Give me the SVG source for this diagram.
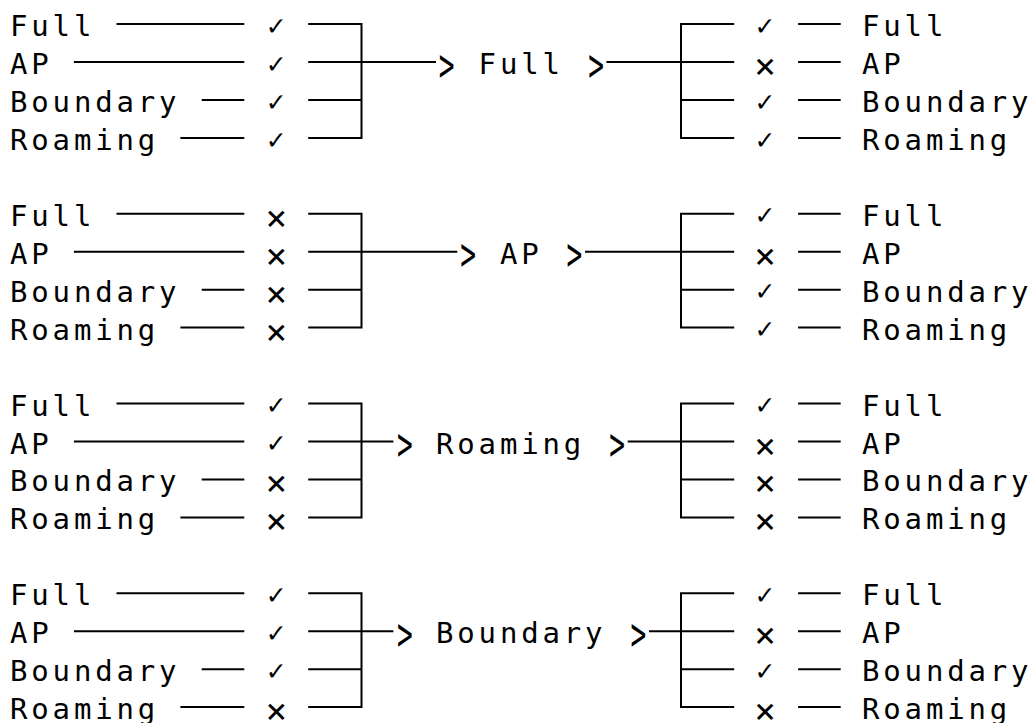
<svg xmlns="http://www.w3.org/2000/svg" width="1034" height="723" viewBox="0 0 1034 723">
<style>
.t{font-family:"DejaVu Sans Mono","Liberation Mono",monospace;font-size:29px;letter-spacing:3.84px;fill:#000}
.ck{font-family:"DejaVu Sans","Noto Sans",sans-serif;font-size:25px;text-anchor:middle;fill:#000}
.x{font-family:"DejaVu Sans Mono","Liberation Mono",monospace;font-size:36px;text-anchor:middle;fill:#000}
.ar{font-family:"DejaVu Sans Mono","Liberation Mono",monospace;font-size:29px;text-anchor:middle;fill:#000}
.c{fill:none;stroke:#000;stroke-width:2}
</style>
<rect width="1034" height="723" fill="#fff"/>
<g id="connectors" class="c">
<path d="M116.5 24H244.3M73.9 62H244.3M201.7 100H244.3M180.4 138H244.3"/>
<path d="M308.2 24H361.5V138H308.2M308.2 62H436M308.2 100H361.5"/>
<path d="M606.4 62H734.2M734.2 24H681V138H734.2M681 100H734.2"/>
<path d="M798.1 24H840.7M798.1 62H840.7M798.1 100H840.7M798.1 138H840.7"/>
<path d="M116.5 213.8H244.3M73.9 251.7H244.3M201.7 289.7H244.3M180.4 327.6H244.3"/>
<path d="M308.2 213.8H361.5V327.6H308.2M308.2 251.7H457.3M308.2 289.7H361.5"/>
<path d="M585 251.7H734.2M734.2 213.8H681V327.6H734.2M681 289.7H734.2"/>
<path d="M798.1 213.8H840.7M798.1 251.7H840.7M798.1 289.7H840.7M798.1 327.6H840.7"/>
<path d="M116.5 403.5H244.3M73.9 441.5H244.3M201.7 479.4H244.3M180.4 517.4H244.3"/>
<path d="M308.2 403.5H361.5V517.4H308.2M308.2 441.5H393.4M308.2 479.4H361.5"/>
<path d="M627.7 441.5H734.2M734.2 403.5H681V517.4H734.2M681 479.4H734.2"/>
<path d="M798.1 403.5H840.7M798.1 441.5H840.7M798.1 479.4H840.7M798.1 517.4H840.7"/>
<path d="M116.5 593.3H244.3M73.9 631.2H244.3M201.7 669.2H244.3M180.4 707.1H244.3"/>
<path d="M308.2 593.3H361.5V707.1H308.2M308.2 631.2H393.4M308.2 669.2H361.5"/>
<path d="M649 631.2H734.2M734.2 593.3H681V707.1H734.2M681 669.2H734.2"/>
<path d="M798.1 593.3H840.7M798.1 631.2H840.7M798.1 669.2H840.7M798.1 707.1H840.7"/>
</g>

<g id="b1-in-full"><text class="t" x="10" y="36">Full</text><text class="ck" x="276.3" y="34.5">✓</text></g>
<g id="b1-in-ap"><text class="t" x="10" y="74">AP</text><text class="ck" x="276.3" y="72.5">✓</text></g>
<g id="b1-in-boundary"><text class="t" x="10" y="112">Boundary</text><text class="ck" x="276.3" y="110.5">✓</text></g>
<g id="b1-in-roaming"><text class="t" x="10" y="150">Roaming</text><text class="ck" x="276.3" y="148.5">✓</text></g>
<g id="b1-result"><text class="ar" transform="translate(446.7,64) scale(0.9,1.6)" y="10.4">&gt;</text><text class="t" x="478.6" y="74">Full</text><text class="ar" transform="translate(596,64) scale(0.9,1.6)" y="10.4">&gt;</text></g>
<g id="b1-out-full"><text class="ck" x="765" y="34.5">✓</text><text class="t" x="862" y="36">Full</text></g>
<g id="b1-out-ap"><text class="x" x="765" y="78">×</text><text class="t" x="862" y="74">AP</text></g>
<g id="b1-out-boundary"><text class="ck" x="765" y="110.5">✓</text><text class="t" x="862" y="112">Boundary</text></g>
<g id="b1-out-roaming"><text class="ck" x="765" y="148.5">✓</text><text class="t" x="862" y="150">Roaming</text></g>

<g id="b2-in-full"><text class="t" x="10" y="225.8">Full</text><text class="x" x="276.3" y="229.8">×</text></g>
<g id="b2-in-ap"><text class="t" x="10" y="263.7">AP</text><text class="x" x="276.3" y="267.7">×</text></g>
<g id="b2-in-boundary"><text class="t" x="10" y="301.7">Boundary</text><text class="x" x="276.3" y="305.7">×</text></g>
<g id="b2-in-roaming"><text class="t" x="10" y="339.6">Roaming</text><text class="x" x="276.3" y="343.6">×</text></g>
<g id="b2-result"><text class="ar" transform="translate(468,253.7) scale(0.9,1.6)" y="10.4">&gt;</text><text class="t" x="499.9" y="263.7">AP</text><text class="ar" transform="translate(574.4,253.7) scale(0.9,1.6)" y="10.4">&gt;</text></g>
<g id="b2-out-full"><text class="ck" x="765" y="224.3">✓</text><text class="t" x="862" y="225.8">Full</text></g>
<g id="b2-out-ap"><text class="x" x="765" y="267.7">×</text><text class="t" x="862" y="263.7">AP</text></g>
<g id="b2-out-boundary"><text class="ck" x="765" y="300.2">✓</text><text class="t" x="862" y="301.7">Boundary</text></g>
<g id="b2-out-roaming"><text class="ck" x="765" y="338.1">✓</text><text class="t" x="862" y="339.6">Roaming</text></g>

<g id="b3-in-full"><text class="t" x="10" y="415.5">Full</text><text class="ck" x="276.3" y="414">✓</text></g>
<g id="b3-in-ap"><text class="t" x="10" y="453.5">AP</text><text class="ck" x="276.3" y="452">✓</text></g>
<g id="b3-in-boundary"><text class="t" x="10" y="491.4">Boundary</text><text class="x" x="276.3" y="495.4">×</text></g>
<g id="b3-in-roaming"><text class="t" x="10" y="529.4">Roaming</text><text class="x" x="276.3" y="533.4">×</text></g>
<g id="b3-result"><text class="ar" transform="translate(404.8,443.5) scale(0.9,1.6)" y="10.4">&gt;</text><text class="t" x="436" y="453.5">Roaming</text><text class="ar" transform="translate(617.1,443.5) scale(0.9,1.6)" y="10.4">&gt;</text></g>
<g id="b3-out-full"><text class="ck" x="765" y="414">✓</text><text class="t" x="862" y="415.5">Full</text></g>
<g id="b3-out-ap"><text class="x" x="765" y="457.5">×</text><text class="t" x="862" y="453.5">AP</text></g>
<g id="b3-out-boundary"><text class="x" x="765" y="495.4">×</text><text class="t" x="862" y="491.4">Boundary</text></g>
<g id="b3-out-roaming"><text class="x" x="765" y="533.4">×</text><text class="t" x="862" y="529.4">Roaming</text></g>

<g id="b4-in-full"><text class="t" x="10" y="605.3">Full</text><text class="ck" x="276.3" y="603.8">✓</text></g>
<g id="b4-in-ap"><text class="t" x="10" y="643.2">AP</text><text class="ck" x="276.3" y="641.7">✓</text></g>
<g id="b4-in-boundary"><text class="t" x="10" y="681.2">Boundary</text><text class="ck" x="276.3" y="679.7">✓</text></g>
<g id="b4-in-roaming"><text class="t" x="10" y="718.5">Roaming</text><text class="x" x="276.3" y="723">×</text></g>
<g id="b4-result"><text class="ar" transform="translate(404.8,633.2) scale(0.9,1.6)" y="10.4">&gt;</text><text class="t" x="436" y="643.2">Boundary</text><text class="ar" transform="translate(638.4,633.2) scale(0.9,1.6)" y="10.4">&gt;</text></g>
<g id="b4-out-full"><text class="ck" x="765" y="603.8">✓</text><text class="t" x="862" y="605.3">Full</text></g>
<g id="b4-out-ap"><text class="x" x="765" y="647.2">×</text><text class="t" x="862" y="643.2">AP</text></g>
<g id="b4-out-boundary"><text class="ck" x="765" y="679.7">✓</text><text class="t" x="862" y="681.2">Boundary</text></g>
<g id="b4-out-roaming"><text class="x" x="765" y="723">×</text><text class="t" x="862" y="718.5">Roaming</text></g>
</svg>
